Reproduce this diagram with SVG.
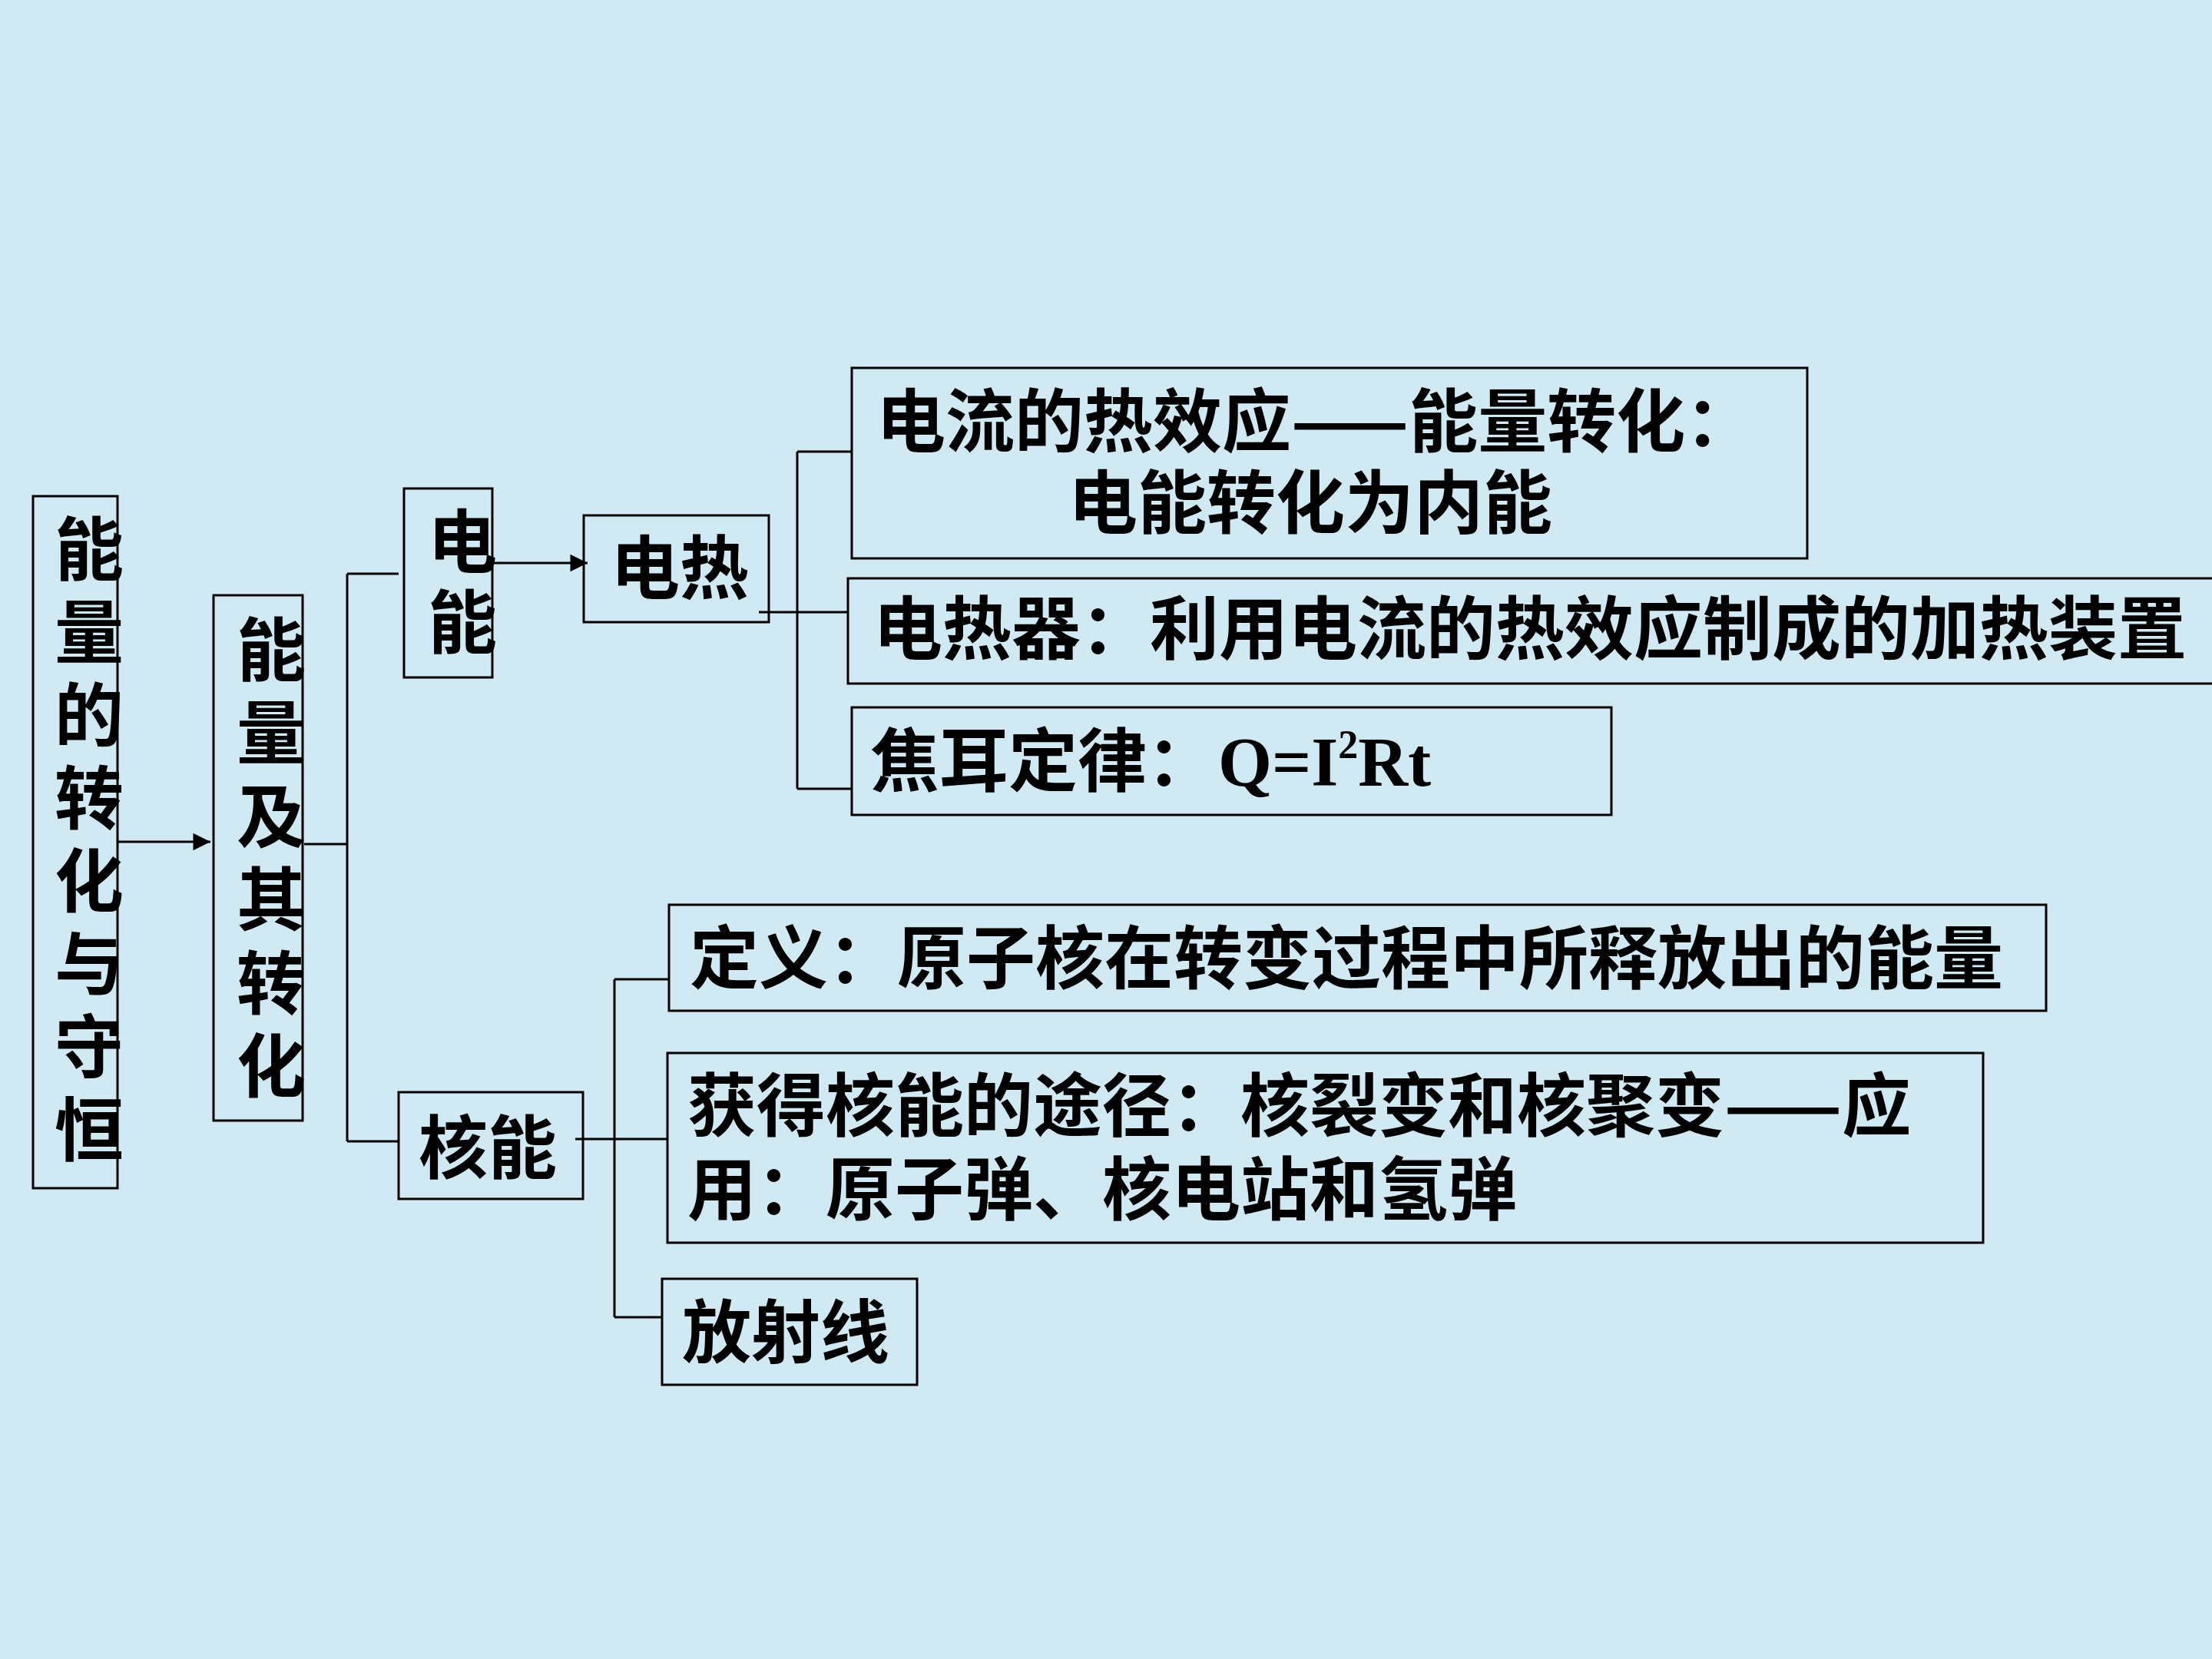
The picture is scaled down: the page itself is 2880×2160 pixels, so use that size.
<svg xmlns="http://www.w3.org/2000/svg" width="2880" height="2160" viewBox="0 0 2880 2160">
<defs>
<style>
.box{fill:none;stroke:#000;stroke-width:3}
.ln{fill:none;stroke:#000;stroke-width:3}
.t{font-family:"Noto Sans CJK SC","Noto Sans CJK TC",sans-serif;font-size:90px;font-weight:bold;fill:#000}
.lat{font-family:"Liberation Serif",serif;font-weight:bold}
</style>
<marker id="arr" viewBox="0 0 10 10" refX="10" refY="5" markerWidth="8" markerHeight="7.5" markerUnits="strokeWidth" orient="auto">
<path d="M0,0 L10,5 L0,10 z" fill="#000"/>
</marker>
</defs>
<rect width="2880" height="2160" fill="#d0e9f3"/>

<g id="connectors">
<line class="ln" x1="153" y1="1096" x2="274" y2="1096" marker-end="url(#arr)"/>
<path class="ln" d="M396,1099 H452 M452,747 V1486 M452,747 H519 M452,1486 H519"/>
<line class="ln" x1="641" y1="733" x2="765" y2="733" marker-end="url(#arr)"/>
<path class="ln" d="M988,797 H1105 M1038,588 V1027 M1038,588 H1109 M1038,1027 H1109"/>
<path class="ln" d="M749,1483 H869 M800,1275 V1715 M800,1275 H871 M800,1715 H862"/>
</g>

<g id="n-root">
<rect class="box" x="43" y="646" width="110" height="901"/>
<text class="t" text-anchor="middle">
<tspan x="116" y="748">能</tspan><tspan x="116" y="856">量</tspan><tspan x="116" y="964">的</tspan><tspan x="116" y="1072">转</tspan><tspan x="116" y="1180">化</tspan><tspan x="116" y="1288">与</tspan><tspan x="116" y="1396">守</tspan><tspan x="116" y="1504">恒</tspan>
</text>
</g>

<g id="n-energy">
<rect class="box" x="278" y="775" width="116" height="684"/>
<text class="t" text-anchor="middle">
<tspan x="353" y="879">能</tspan><tspan x="353" y="987">量</tspan><tspan x="353" y="1096">及</tspan><tspan x="353" y="1204">其</tspan><tspan x="353" y="1313">转</tspan><tspan x="353" y="1421">化</tspan>
</text>
</g>

<g id="n-electric">
<rect class="box" x="526" y="636" width="115" height="246"/>
<text class="t" text-anchor="middle"><tspan x="602" y="738">电</tspan><tspan x="602" y="843">能</tspan></text>
</g>

<g id="n-nuclear">
<rect class="box" x="519" y="1422" width="240" height="139"/>
<text class="t" x="545" y="1527">核能</text>
</g>

<g id="n-heat">
<rect class="box" x="760" y="671" width="241" height="139"/>
<text class="t" x="795" y="772">电热</text>
</g>

<g id="n-effect">
<rect class="box" x="1109" y="479" width="1244" height="248"/>
<text class="t" x="1141" y="581">电流的热效应——能量转化：</text>
<text class="t" x="1391" y="687">电能转化为内能</text>
</g>

<g id="n-heater">
<rect class="box" x="1104" y="753" width="1800" height="137"/>
<text class="t" x="1137" y="851">电热器：利用电流的热效应制成的加热装置</text>
</g>

<g id="n-joule">
<rect class="box" x="1109" y="921" width="989" height="140"/>
<text class="t" x="1133" y="1023">焦耳定律：<tspan class="lat" x="1586">Q=I</tspan><tspan class="lat" font-size="52" dy="-36">2</tspan><tspan class="lat" dy="36">Rt</tspan></text>
</g>

<g id="n-def">
<rect class="box" x="871" y="1178" width="1793" height="138"/>
<text class="t" x="898" y="1280">定义：原子核在转变过程中所释放出的能量</text>
</g>

<g id="n-way">
<rect class="box" x="869" y="1371" width="1713" height="247"/>
<text class="t" x="895" y="1472">获得核能的途径：核裂变和核聚变——应</text>
<text class="t" x="895" y="1581">用：原子弹、核电站和氢弹</text>
</g>

<g id="n-ray">
<rect class="box" x="862" y="1665" width="332" height="138"/>
<text class="t" x="888" y="1767">放射线</text>
</g>
</svg>
